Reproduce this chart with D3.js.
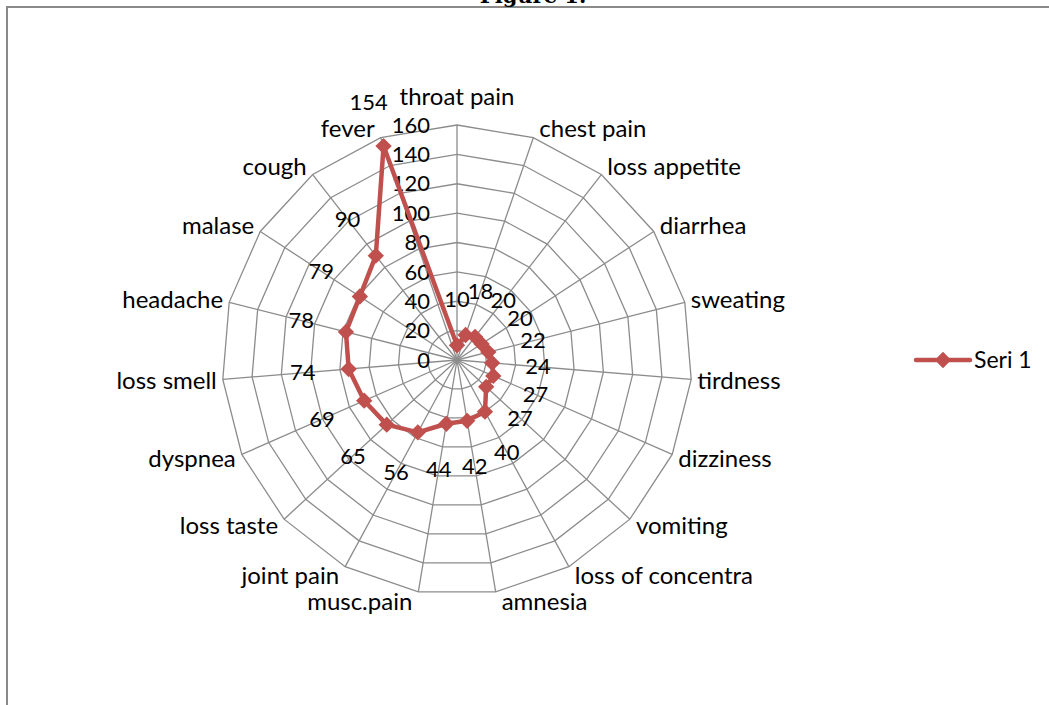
<!DOCTYPE html>
<html>
<head>
<meta charset="utf-8">
<script src="https://cdn.jsdelivr.net/npm/d3@7"></script>
<style>
  body { margin: 0; background: #fff; }
  svg text { font-family: Lato, "Open Sans", sans-serif; fill: #000; }
</style>
</head>
<body>
<svg id="chart" width="1049" height="705"></svg>
<script>
// symptoms, clockwise from the top
var categories = ["throat pain", "chest pain", "loss appetite", "diarrhea", "sweating",
  "tirdness", "dizziness", "vomiting", "loss of concentra", "amnesia", "musc.pain",
  "joint pain", "loss taste", "dyspnea", "loss smell", "headache", "malase", "cough", "fever"];
var values = [10, 18, 20, 20, 22, 24, 27, 27, 40, 42, 44, 56, 65, 69, 74, 78, 79, 90, 154];
var ticks = [0, 20, 40, 60, 80, 100, 120, 140, 160];
var seriesName = "Seri 1";
var title = "Figure 1.";

var svg = d3.select("#chart");
var cx = 457, cy = 360, R = 235;
var red = "#C0504D", grid = "#8c8c8c";

// border of the chart area (only top and left edges show)
svg.append("rect")
  .attr("x", 7).attr("y", 7).attr("width", 1200).attr("height", 900)
  .attr("fill", "none").attr("stroke", "#8a8a8a").attr("stroke-width", 2);

svg.append("text")
  .attr("x", 533).attr("y", 3)
  .attr("text-anchor", "middle")
  .style("font-family", "'DejaVu Serif', 'Liberation Serif', serif")
  .style("font-weight", "bold").style("font-size", "21px")
  .text(title);

var r = d3.scaleLinear().domain([0, 160]).range([0, R]);
var ang = d3.scaleLinear().domain([0, categories.length]).range([0, 2 * Math.PI]);

function pt(i, v) {
  var a = ang(i);
  return [cx + r(v) * Math.sin(a), cy - r(v) * Math.cos(a)];
}

var g = svg.append("g");

// rings
ticks.slice(1).forEach(function(t) {
  var pts = categories.map(function(c, i) { return pt(i, t); });
  g.append("path")
    .attr("d", d3.line()(pts) + "Z")
    .attr("fill", "none").attr("stroke", grid).attr("stroke-width", 1.3);
});

// spokes
categories.forEach(function(c, i) {
  var p = pt(i, 160);
  g.append("line")
    .attr("x1", cx).attr("y1", cy).attr("x2", p[0]).attr("y2", p[1])
    .attr("stroke", grid).attr("stroke-width", 1.3);
});

// tick labels along the top spoke
g.selectAll(".tick").data(ticks).enter().append("text")
  .attr("x", cx - 27)
  .attr("y", function(d) { return cy - r(d); })
  .attr("dy", "0.35em")
  .attr("text-anchor", "end")
  .style("font-size", "22px")
  .text(function(d) { return d; });

// category labels
g.selectAll(".cat").data(categories).enter().append("text")
  .attr("x", function(d, i) {
    var a = ang(i), p = pt(i, 160);
    if (Math.abs(Math.sin(a)) < 0.05) return p[0];
    return p[0] + (Math.sin(a) > 0 ? 6 : -6);
  })
  .attr("y", function(d, i) {
    var a = ang(i), p = pt(i, 160);
    if (Math.abs(Math.sin(a)) < 0.05) return p[1] - 28 * Math.cos(a);
    return p[1] - 10 * Math.cos(a);
  })
  .attr("dy", "0.35em")
  .attr("text-anchor", function(d, i) {
    var s = Math.sin(ang(i));
    return Math.abs(s) < 0.05 ? "middle" : (s > 0 ? "start" : "end");
  })
  .style("font-size", "24px")
  .text(function(d) { return d; });

// series
var linePts = values.map(function(v, i) { return pt(i, v); });
g.append("path")
  .attr("d", d3.line()(linePts) + "Z")
  .attr("fill", "none").attr("stroke", red)
  .attr("stroke-width", 4.5).attr("stroke-linejoin", "round");

var diamond = d3.symbol().type(d3.symbolDiamond2).size(170);
g.selectAll(".mk").data(linePts).enter().append("path")
  .attr("d", diamond)
  .attr("transform", function(d) { return "translate(" + d[0] + "," + d[1] + ")"; })
  .attr("fill", red);

// value labels, pushed outward along each spoke
g.selectAll(".val").data(values).enter().append("text")
  .attr("x", function(d, i) { return cx + (r(d) + 46) * Math.sin(ang(i)); })
  .attr("y", function(d, i) { return cy - (r(d) + 46) * Math.cos(ang(i)); })
  .attr("dy", "0.35em")
  .attr("text-anchor", "middle")
  .style("font-size", "22px")
  .text(function(d) { return d; });

// legend
var lg = svg.append("g").attr("transform", "translate(916,360)");
lg.append("line").attr("x1", 0).attr("x2", 54).attr("y1", 0).attr("y2", 0)
  .attr("stroke", red).attr("stroke-width", 4.5).attr("stroke-linecap", "round");
lg.append("path").attr("d", diamond).attr("transform", "translate(27,0)").attr("fill", red);
lg.append("text").attr("x", 58).attr("y", 0).attr("dy", "0.35em")
  .style("font-size", "23px").text(seriesName);
</script>
</body>
</html>
